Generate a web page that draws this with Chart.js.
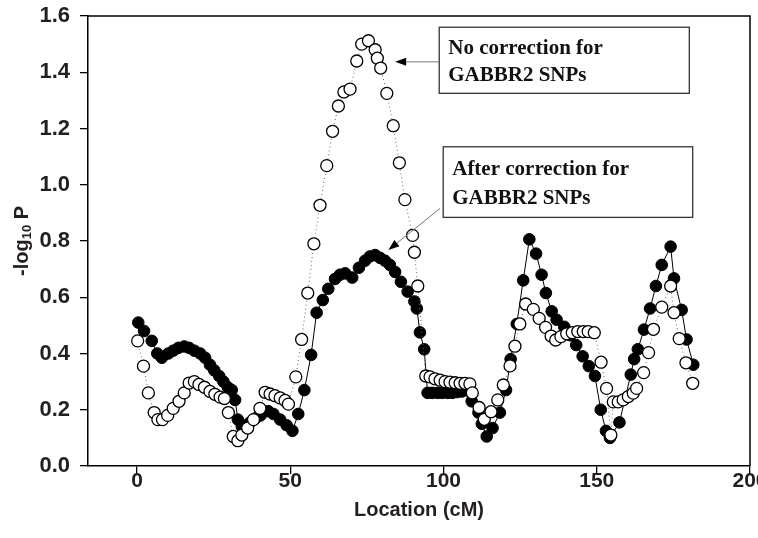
<!DOCTYPE html>
<html>
<head>
<meta charset="utf-8">
<script src="https://cdn.jsdelivr.net/npm/chart.js@4.4.0/dist/chart.umd.min.js"></script>
<style>
  html, body { margin: 0; padding: 0; background: #fff; }
  #wrap { width: 758px; height: 538px; }
</style>
</head>
<body>
<div id="wrap"><canvas id="myChart" width="758" height="538"></canvas></div>
<script>
// filled circles - after correction for GABBR2 SNPs
const afterCM = [0.4, 2.3, 4.8, 6.6, 8.1, 10.2, 11.8, 13.5, 15.4, 17.0, 18.7, 20.6, 22.2, 23.8, 25.2, 26.8, 28.2, 29.6, 30.9, 32.0,
  32.9, 34.2, 35.5, 36.9, 38.7, 40.3, 42.8, 44.5, 46.7, 48.8, 50.7, 52.6, 54.6, 56.8, 58.6, 60.6, 62.4, 64.6, 66.2, 67.9,
  70.2, 72.4, 74.4, 76.0, 77.7, 79.3, 80.9, 82.5, 84.2, 86.1, 88.3, 90.5, 91.3, 92.3, 93.7, 94.8, 96.3, 98.1, 99.6, 101.4,
  102.9, 104.5, 106.0, 109.2, 111.4, 112.5, 114.1, 116.0, 118.4, 120.4, 121.9, 123.9, 126.0, 128.0, 130.2, 132.0, 133.4, 135.3, 136.9, 139.4,
  141.3, 143.3, 145.4, 147.4, 149.4, 151.3, 153.0, 154.3, 157.4, 161.1, 162.2, 163.4, 165.4, 167.4, 169.3, 171.2, 174.1, 175.2, 177.7, 179.3, 181.5];
const afterP = [0.51, 0.48, 0.445, 0.40, 0.385, 0.40, 0.41, 0.42, 0.425, 0.42, 0.41, 0.40, 0.385, 0.36, 0.34, 0.32, 0.30, 0.28, 0.27, 0.235,
  0.165, 0.14, 0.145, 0.155, 0.17, 0.18, 0.195, 0.185, 0.165, 0.145, 0.125, 0.185, 0.27, 0.395, 0.545, 0.59, 0.63, 0.665, 0.68, 0.685,
  0.67, 0.705, 0.73, 0.745, 0.75, 0.74, 0.73, 0.715, 0.69, 0.655, 0.62, 0.585, 0.56, 0.475, 0.415, 0.26, 0.26, 0.26, 0.26, 0.26,
  0.26, 0.263, 0.265, 0.23, 0.19, 0.15, 0.105, 0.135, 0.19, 0.27, 0.38, 0.505, 0.66, 0.806, 0.755, 0.68, 0.615, 0.55, 0.52, 0.495,
  0.465, 0.43, 0.39, 0.355, 0.32, 0.20, 0.125, 0.10, 0.155, 0.325, 0.38, 0.415, 0.485, 0.56, 0.64, 0.715, 0.78, 0.667, 0.555, 0.45, 0.36];

// open circles - no correction
const noCorrCM = [0.2, 2.1, 3.7, 5.6, 6.8, 8.3, 10.0, 11.8, 13.7, 15.4, 17.0, 18.7, 20.2, 22.0, 23.8, 25.4, 27.1, 28.5, 29.8, 31.4,
  32.9, 34.2, 36.1, 38.0, 40.1, 41.8, 43.4, 45.0, 46.7, 48.3, 49.4, 51.8, 53.7, 55.7, 57.7, 59.7, 61.9, 63.8, 65.7, 67.5,
  69.5, 71.7, 73.3, 75.5, 77.7, 78.4, 79.5, 81.5, 83.6, 85.6, 87.4, 89.9, 90.5, 91.6, 94.2, 95.6, 97.2, 98.9, 100.5, 102.1,
  103.8, 105.4, 107.0, 108.6, 109.4, 111.6, 113.3, 115.5, 117.7, 119.5, 121.7, 123.3, 124.9, 126.8, 129.3, 131.2, 133.3, 135.1, 136.6, 138.3,
  140.2, 142.0, 143.8, 145.6, 147.2, 149.2, 151.4, 153.2, 154.6, 155.4, 157.0, 158.6, 160.3, 161.9, 163.0, 165.3, 166.9, 168.5, 171.2, 174.1,
  175.2, 176.9, 179.1, 181.3];
const noCorrP = [0.445, 0.355, 0.26, 0.19, 0.165, 0.165, 0.18, 0.205, 0.23, 0.26, 0.295, 0.30, 0.29, 0.28, 0.265, 0.255, 0.245, 0.24, 0.19, 0.105,
  0.09, 0.11, 0.135, 0.165, 0.205, 0.262, 0.256, 0.25, 0.242, 0.233, 0.22, 0.317, 0.45, 0.615, 0.79, 0.927, 1.068, 1.19, 1.28, 1.33,
  1.34, 1.44, 1.50, 1.512, 1.48, 1.45, 1.415, 1.325, 1.21, 1.078, 0.947, 0.82, 0.76, 0.64, 0.32, 0.317, 0.31, 0.305, 0.30, 0.298,
  0.296, 0.294, 0.294, 0.292, 0.26, 0.208, 0.166, 0.193, 0.235, 0.288, 0.356, 0.426, 0.505, 0.576, 0.557, 0.525, 0.493, 0.462, 0.448, 0.46,
  0.47, 0.474, 0.478, 0.478, 0.478, 0.474, 0.369, 0.276, 0.11, 0.228, 0.228, 0.235, 0.247, 0.259, 0.276, 0.332, 0.403, 0.486, 0.565, 0.64,
  0.545, 0.453, 0.367, 0.294];

const xTicks = [0, 50, 100, 150, 200];
const xTitle = 'Location (cM)';
const yTitle = ['-log', '10', ' P'];
const note1 = ['No correction for', 'GABBR2 SNPs'];
const note2 = ['After correction for', 'GABBR2 SNPs'];

// boxes and arrows in data units
const notes = [
  { lines: note1, x1: 98.6, x2: 180.2, y1: 1.56, y2: 1.325, from: [98.6, 1.437], to: [84.2, 1.437] },
  { lines: note2, x1: 99.9, x2: 181.3, y1: 1.135, y2: 0.884, from: [98.9, 0.916], to: [82.0, 0.768] }
];

const ink = '#231f20';
const sans = '"Liberation Sans", Arial, sans-serif';
const toXY = (xs, ys) => xs.map((x, i) => ({ x: x, y: ys[i] }));

const extras = {
  id: 'extras',
  afterDraw(chart) {
    const ctx = chart.ctx;
    const a = chart.chartArea;
    const xs = chart.scales.x, ys = chart.scales.y;
    ctx.save();
    // top + right frame
    ctx.strokeStyle = '#000';
    ctx.lineWidth = 1.5;
    ctx.beginPath();
    ctx.moveTo(a.left, a.top);
    ctx.lineTo(a.right, a.top);
    ctx.lineTo(a.right, a.bottom);
    ctx.stroke();

    // note boxes
    notes.forEach(n => {
      const l = xs.getPixelForValue(n.x1), r = xs.getPixelForValue(n.x2);
      const t = ys.getPixelForValue(n.y1), b = ys.getPixelForValue(n.y2);
      ctx.fillStyle = '#fff';
      ctx.fillRect(l, t, r - l, b - t);
      ctx.strokeStyle = '#333';
      ctx.lineWidth = 1.3;
      ctx.strokeRect(l, t, r - l, b - t);
      ctx.fillStyle = '#111';
      ctx.font = 'bold 21px "Liberation Serif", "Times New Roman", serif';
      ctx.textBaseline = 'middle';
      ctx.textAlign = 'left';
      const h = b - t;
      ctx.fillText(n.lines[0], l + 9, t + h * 0.33);
      ctx.fillText(n.lines[1], l + 9, t + h * 0.73);

      // arrow
      const fx = xs.getPixelForValue(n.from[0]), fy = ys.getPixelForValue(n.from[1]);
      const tx = xs.getPixelForValue(n.to[0]), ty = ys.getPixelForValue(n.to[1]);
      const ang = Math.atan2(ty - fy, tx - fx);
      const hl = 11, hw = 4;
      const bx = tx - hl * Math.cos(ang), by = ty - hl * Math.sin(ang);
      ctx.strokeStyle = '#777';
      ctx.lineWidth = 1;
      ctx.beginPath();
      ctx.moveTo(fx, fy);
      ctx.lineTo(bx, by);
      ctx.stroke();
      ctx.fillStyle = '#000';
      ctx.beginPath();
      ctx.moveTo(tx, ty);
      ctx.lineTo(bx + hw * Math.sin(ang), by - hw * Math.cos(ang));
      ctx.lineTo(bx - hw * Math.sin(ang), by + hw * Math.cos(ang));
      ctx.closePath();
      ctx.fill();
    });

    // y title with subscript
    const big = 'bold 20px ' + sans;
    const small = 'bold 13px ' + sans;
    ctx.font = big;
    const w0 = ctx.measureText(yTitle[0]).width;
    const w2 = ctx.measureText(yTitle[2]).width;
    ctx.font = small;
    const w1 = ctx.measureText(yTitle[1]).width;
    const total = w0 + w1 + w2;
    ctx.translate(22, (a.top + a.bottom) / 2);
    ctx.rotate(-Math.PI / 2);
    ctx.fillStyle = ink;
    ctx.textAlign = 'left';
    ctx.textBaseline = 'middle';
    ctx.font = big;
    ctx.fillText(yTitle[0], -total / 2, 0);
    ctx.font = small;
    ctx.fillText(yTitle[1], -total / 2 + w0, 5);
    ctx.font = big;
    ctx.fillText(yTitle[2], -total / 2 + w0 + w1, 0);
    ctx.restore();
  }
};

const ctx = document.getElementById('myChart').getContext('2d');

const myChart = new Chart(ctx, {
  type: 'scatter',
  data: {
    datasets: [{
      label: 'No correction for GABBR2 SNPs',
      data: toXY(noCorrCM, noCorrP),
      showLine: true,
      borderColor: '#666',
      borderWidth: 1,
      borderDash: [1, 3],
      pointBackgroundColor: '#fff',
      pointBorderColor: '#000',
      pointBorderWidth: 1.3,
      pointRadius: 6,
      pointHoverRadius: 6
    }, {
      label: 'After correction for GABBR2 SNPs',
      data: toXY(afterCM, afterP),
      showLine: true,
      borderColor: '#000',
      borderWidth: 1,
      pointBackgroundColor: '#000',
      pointBorderColor: '#000',
      pointBorderWidth: 1,
      pointRadius: 5.8,
      pointHoverRadius: 5.8
    }]
  },
  options: {
    responsive: false,
    animation: false,
    layout: { padding: { top: 16, right: 8, left: 0, bottom: 0 } },
    plugins: { legend: { display: false }, tooltip: { enabled: false } },
    scales: {
      x: {
        type: 'linear',
        min: -16,
        max: 200,
        afterBuildTicks: s => { s.ticks = xTicks.map(v => ({ value: v })); },
        afterFit: s => { s.height = 72; s.paddingLeft = 0; s.paddingRight = 0; },
        grid: { drawOnChartArea: false, drawTicks: true, tickLength: 8, color: '#000', lineWidth: 1.3 },
        border: { display: true, color: '#000', width: 1.5 },
        ticks: { color: ink, padding: -5, font: { size: 21, weight: 'bold', family: sans } },
        title: { display: true, text: xTitle, color: ink, padding: { top: 0, bottom: 16 },
          font: { size: 20, weight: 'bold', family: sans } }
      },
      y: {
        min: 0,
        max: 1.6,
        afterFit: s => { s.width = 88; s.paddingTop = 0; s.paddingBottom = 0; },
        grid: { drawOnChartArea: false, drawTicks: true, tickLength: 8, color: '#000', lineWidth: 1.3 },
        border: { display: true, color: '#000', width: 1.5 },
        ticks: { stepSize: 0.2, color: ink, padding: 10, callback: v => v.toFixed(1),
          font: { size: 22, weight: 'bold', family: sans } }
      }
    }
  },
  plugins: [extras]
});
</script>
</body>
</html>
